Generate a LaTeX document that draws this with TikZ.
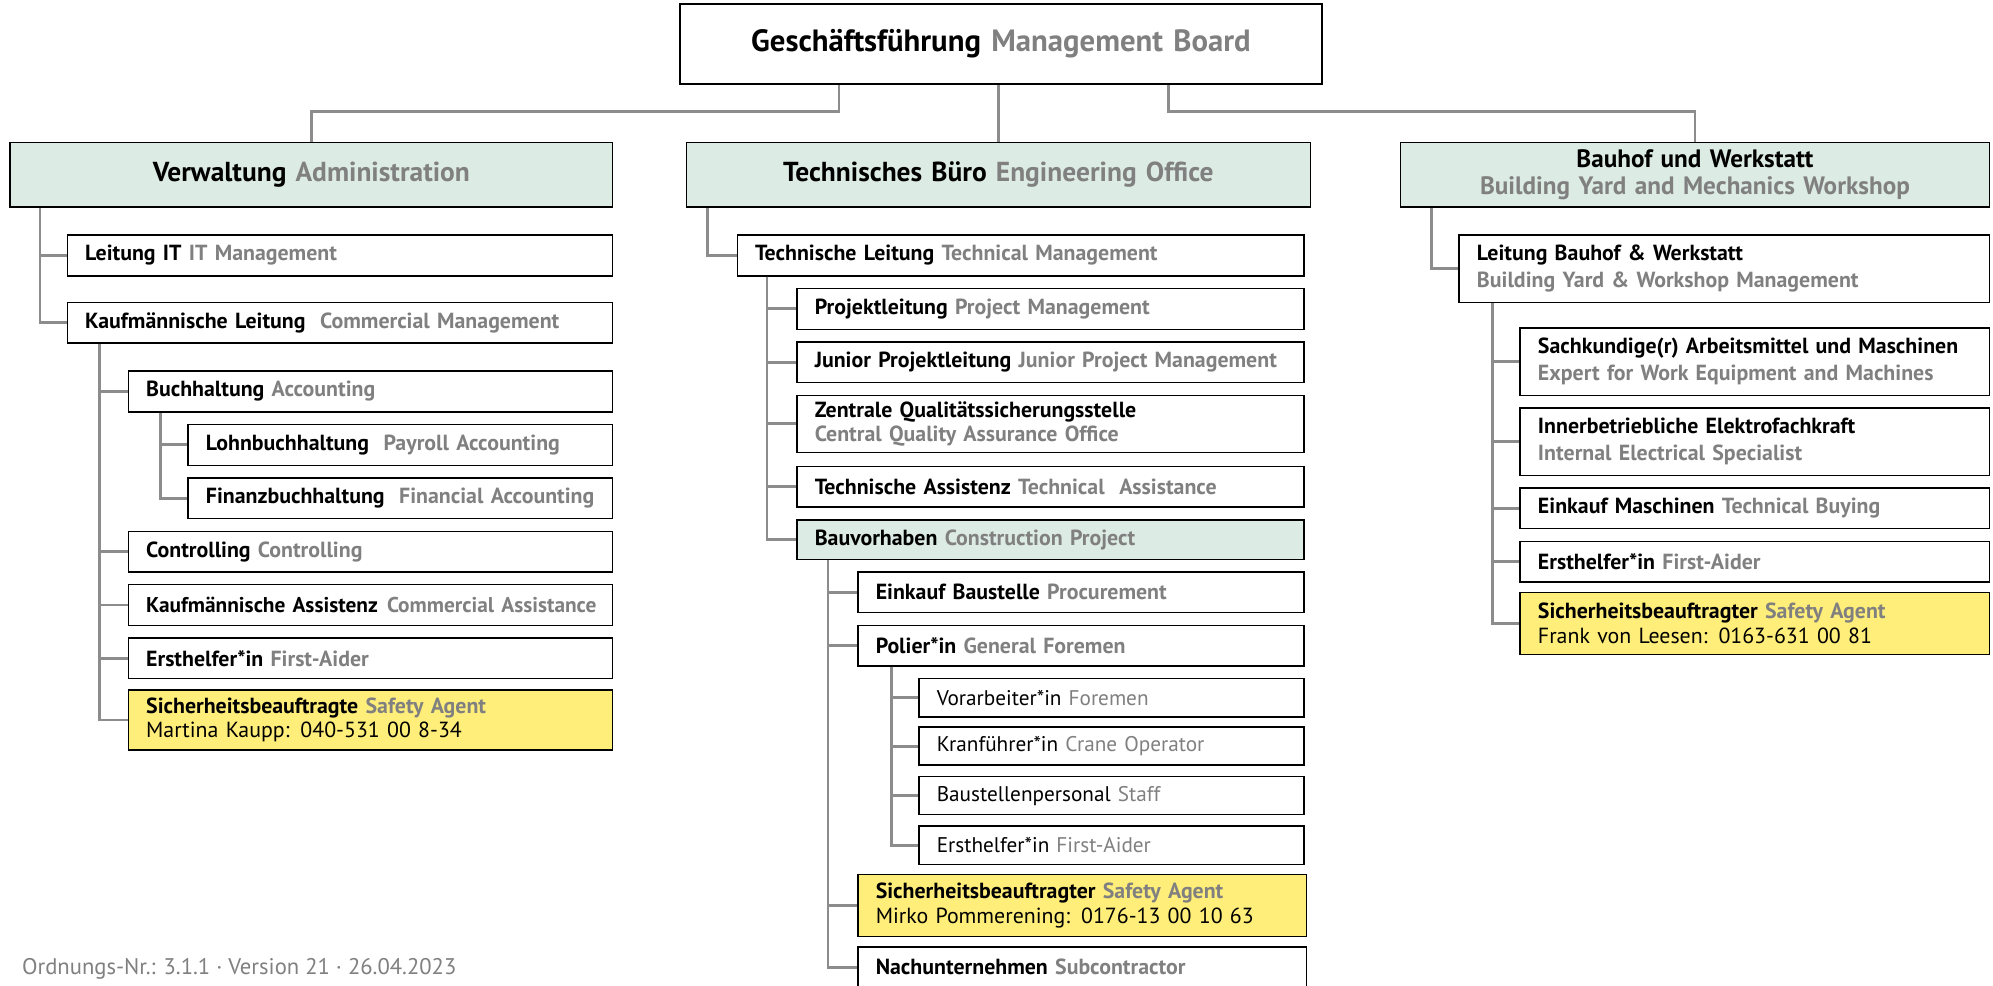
\documentclass[tikz,border=0pt]{standalone}
\usepackage{fontspec}
\setmainfont{PT Sans}
\definecolor{engray}{RGB}{128,128,128}
\definecolor{lgreen}{RGB}{221,235,229}
\definecolor{yel}{RGB}{255,238,122}
\definecolor{conngray}{RGB}{140,140,140}
\newcommand{\en}[1]{{\color{engray}#1}}
\newcommand{\bx}[7][]{%
  \pgfmathsetmacro\bxw{(#5-#3)*0.5}%
  \pgfmathsetmacro\bxh{(#6-#4)*0.5}%
  \pgfmathsetmacro\bxt{(#5-#3)*0.5-14}%
  \node[box,minimum width=\bxw pt,minimum height=\bxh pt,text width=\bxt pt,#1] (#2) at ({(#3+#5)/2},{(#4+#6)/2}) {#7};}
\tikzset{
  box/.style={draw=black,line width=0.55pt,fill=white,rectangle,inner xsep=7pt,inner ysep=0pt,align=left,
    font=\fontsize{8.6}{9.6}\selectfont\bfseries},
  greenbox/.style={fill=lgreen},
  yellowbox/.style={fill=yel},
  regtext/.style={font=\fontsize{8.35}{9.6}\selectfont},
  wide/.style={font=\fontsize{8.6}{10.5}\selectfont\bfseries},
  tight/.style={font=\fontsize{8.4}{9.6}\selectfont\bfseries},
  conn/.style={draw=conngray,line width=1.1pt},
}
\begin{document}
\hyphenpenalty=10000
\exhyphenpenalty=10000
\begin{tikzpicture}[x=0.5pt,y=-0.5pt]
\clip (0,0) rectangle (1568,775.7);
\useasboundingbox (0,0) rectangle (1568,775.7);
\fill[white] (0,0) rectangle (1568,775.7);
% top level
\bx[align=center,font=\fontsize{12.1}{13}\selectfont\bfseries]{top}{535}{3}{1040}{66}{Geschäftsführung \en{Management Board}}
\bx[greenbox,align=center,font=\fontsize{10.8}{12}\selectfont\bfseries]{verw}{8}{112}{482}{163}{Verwaltung \en{Administration}}
\bx[greenbox,align=center,font=\fontsize{10.8}{12}\selectfont\bfseries]{tb}{540}{112}{1031}{163}{Technisches Büro \en{Engineering Office}}
\bx[greenbox,align=center,font=\fontsize{9.9}{10.6}\selectfont\bfseries]{bh}{1102}{112}{1565}{163}{Bauhof und Werkstatt\\\en{Building Yard and Mechanics Workshop}}
% Verwaltung
\bx{itl}{53}{185}{482}{217}{Leitung IT \en{IT Management}}
\bx{kfl}{53}{238}{482}{270}{Kaufmännische Leitung\ \ \en{Commercial Management}}
\bx{buch}{101}{292}{482}{324}{Buchhaltung \en{Accounting}}
\bx{lohn}{148}{334}{482}{366}{Lohnbuchhaltung\ \ \en{Payroll Accounting}}
\bx{fin}{148}{376}{482}{408}{Finanzbuchhaltung\ \ \en{Financial Accounting}}
\bx{contr}{101}{418}{482}{450}{Controlling \en{Controlling}}
\bx[tight]{kass}{101}{460}{482}{492}{\mbox{Kaufmännische Assistenz\hspace{3.6pt}\en{Commercial Assistance}}}
\bx{ehA}{101}{502}{482}{534}{Ersthelfer*in \en{First-Aider}}
\bx[yellowbox]{sbA}{101}{543}{482}{590}{Sicherheitsbeauftragte \en{Safety Agent}\\{\mdseries Martina Kaupp: 040-531 00 8-34}}
% Technisches Buero
\bx{tl}{580}{185}{1026}{217}{Technische Leitung \en{Technical Management}}
\bx{pl}{627}{227}{1026}{259}{Projektleitung \en{Project Management}}
\bx{jpl}{627}{269}{1026}{301}{Junior Projektleitung \en{Junior Project Management}}
\bx{zqs}{627}{311}{1026}{356}{Zentrale Qualitätssicherungsstelle\\\en{Central Quality Assurance Office}}
\bx{ta}{627}{367}{1026}{399}{Technische Assistenz \en{Technical\ \ Assistance}}
\bx[greenbox]{bv}{627}{409}{1026}{440}{Bauvorhaben \en{Construction Project}}
\bx{eb}{675}{450}{1026}{482}{Einkauf Baustelle \en{Procurement}}
\bx{pol}{675}{492}{1026}{524}{Polier*in \en{General Foremen}}
\bx[regtext]{vor}{723}{534}{1026}{564}{Vorarbeiter*in \en{Foremen}}
\bx[regtext]{kran}{723}{572}{1026}{602}{Kranführer*in \en{Crane Operator}}
\bx[regtext]{bp}{723}{611}{1026}{641}{Baustellenpersonal \en{Staff}}
\bx[regtext]{ehB}{723}{650}{1026}{680}{Ersthelfer*in \en{First-Aider}}
\bx[yellowbox]{sbB}{675}{688}{1028}{737}{Sicherheitsbeauftragter \en{Safety Agent}\\{\mdseries Mirko Pommerening: 0176-13 00 10 63}}
\bx{nach}{675}{745}{1028}{777}{Nachunternehmen \en{Subcontractor}}
% Bauhof
\bx[wide]{lbw}{1148}{185}{1565}{238}{Leitung Bauhof \& Werkstatt\\\en{Building Yard \& Workshop Management}}
\bx[wide]{sk}{1196}{258}{1565}{311}{Sachkundige(r) Arbeitsmittel und Maschinen\\\en{Expert for Work Equipment and Machines}}
\bx[wide]{ie}{1196}{321}{1565}{374}{Innerbetriebliche Elektrofachkraft\\\en{Internal Electrical Specialist}}
\bx{em}{1196}{384}{1565}{416}{Einkauf Maschinen \en{Technical Buying}}
\bx{ehC}{1196}{426}{1565}{458}{Ersthelfer*in \en{First-Aider}}
\bx[yellowbox]{sbC}{1196}{466}{1565}{515}{Sicherheitsbeauftragter \en{Safety Agent}\\{\mdseries Frank von Leesen: 0163-631 00 81}}
% footer
\node[anchor=west,inner sep=0pt,font=\fontsize{8.9}{10}\selectfont,text=engray] (foot) at (17,762) {Ordnungs-Nr.: 3.1.1 · Version 21 · 26.04.2023};
% top connectors
\coordinate (jl) at (660,88);
\coordinate (jr) at (919,88);
\draw[conn] (jl |- top.south) -- (jl) -| (verw.north);
\draw[conn] (top.south -| tb.north) -- (tb.north);
\draw[conn] (jr |- top.south) -- (jr) -| (bh.north);
% Verwaltung connectors
\foreach \c in {itl,kfl} \draw[conn] ([xshift=12pt]verw.south west) |- (\c.west);
\foreach \c in {buch,contr,kass,ehA,sbA} \draw[conn] ([xshift=13pt]kfl.south west) |- (\c.west);
\foreach \c in {lohn,fin} \draw[conn] ([xshift=13pt]buch.south west) |- (\c.west);
% Tech connectors
\draw[conn] ([xshift=8.5pt]tb.south west) |- (tl.west);
\foreach \c in {pl,jpl,zqs,ta,bv} \draw[conn] ([xshift=12pt]tl.south west) |- (\c.west);
\foreach \c in {eb,pol,sbB,nach} \draw[conn] ([xshift=12.5pt]bv.south west) |- (\c.west);
\foreach \c in {vor,kran,bp,ehB} \draw[conn] ([xshift=13.5pt]pol.south west) |- (\c.west);
% Bauhof connectors
\draw[conn] ([xshift=12.5pt]bh.south west) |- (lbw.west);
\foreach \c in {sk,ie,em,ehC,sbC} \draw[conn] ([xshift=13.5pt]lbw.south west) |- (\c.west);
\end{tikzpicture}
\end{document}
